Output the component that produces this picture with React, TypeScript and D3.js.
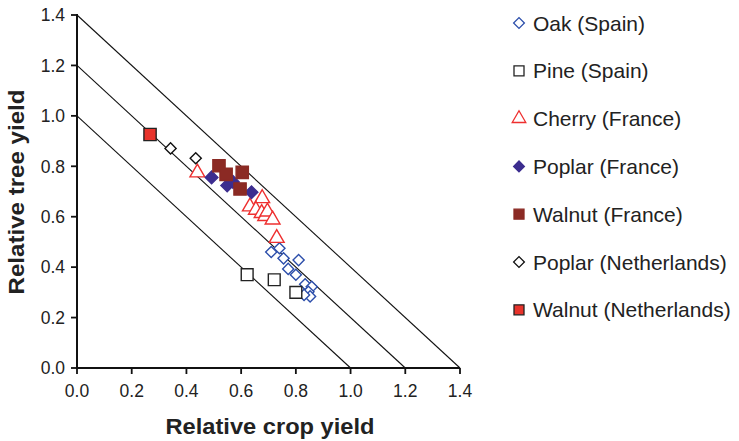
import React from "react";
import * as d3 from "d3";

const xTicks = [0, 0.2, 0.4, 0.6, 0.8, 1.0, 1.2, 1.4];
const yTicks = [0, 0.2, 0.4, 0.6, 0.8, 1.0, 1.2, 1.4];
const diagonals = [1.0, 1.2, 1.4];

const oakSpain: [number, number][] = [
  [0.71, 0.46], [0.74, 0.475], [0.755, 0.435], [0.772, 0.393], [0.81, 0.428],
  [0.8, 0.37], [0.834, 0.332], [0.858, 0.322], [0.846, 0.302], [0.852, 0.284], [0.83, 0.29],
];
const pineSpain: [number, number][] = [[0.622, 0.37], [0.721, 0.35], [0.8, 0.3]];
const cherryFrance: [number, number][] = [
  [0.44, 0.775], [0.632, 0.64], [0.677, 0.673], [0.654, 0.627], [0.675, 0.614],
  [0.688, 0.602], [0.696, 0.62], [0.715, 0.588], [0.73, 0.515],
];
const poplarFrance: [number, number][] = [[0.492, 0.756], [0.549, 0.724], [0.57, 0.738], [0.638, 0.697]];
const walnutFrance: [number, number][] = [[0.519, 0.802], [0.545, 0.768], [0.604, 0.776], [0.596, 0.71]];
const poplarNL: [number, number][] = [[0.342, 0.871], [0.434, 0.832]];
const walnutNL: [number, number][] = [[0.267, 0.926]];

type Shape = "diamond" | "square" | "triangle";
const seriesNames = [
  "Oak (Spain)", "Pine (Spain)", "Cherry (France)", "Poplar (France)",
  "Walnut (France)", "Poplar (Netherlands)", "Walnut (Netherlands)",
];
const seriesData = [oakSpain, pineSpain, cherryFrance, poplarFrance, walnutFrance, poplarNL, walnutNL];
const seriesShape: Shape[] = ["diamond", "square", "triangle", "diamond", "square", "diamond", "square"];
const seriesFill = ["#ffffff", "#ffffff", "#ffffff", "#3c2d8f", "#8b2a24", "#ffffff", "#e8332b"];
const seriesStroke = ["#2d4fab", "#222222", "#ee2f2f", "#3c2d8f", "#8b2a24", "#111111", "#222222"];
const seriesSize = [62, 140, 95, 80, 150, 62, 150];

function symPath(shape: Shape, size: number) {
  const t = shape === "triangle" ? d3.symbolTriangle : d3.symbolSquare;
  return d3.symbol().type(t).size(size)() as string;
}

export default function App() {
  const x = d3.scaleLinear().domain([0, 1.4]).range([77, 460]);
  const y = d3.scaleLinear().domain([0, 1.4]).range([368, 15]);
  const font = "Arial, 'Liberation Sans', Helvetica, sans-serif";
  const legendX = 519;
  const legendY0 = 23;
  const legendStep = 47.8;

  return (
    <svg width={739} height={441} style={{ position: "absolute", left: 0, top: 0, background: "#fff" }} fontFamily={font}>
      {diagonals.map((c) => (
        <line key={c} x1={x(0)} y1={y(c)} x2={x(c)} y2={y(0)} stroke="#111" strokeWidth={1.1} />
      ))}
      {/* axes */}
      <line x1={x(0)} y1={y(1.4) - 1} x2={x(0)} y2={y(0) + 1} stroke="#111" strokeWidth={2} />
      <line x1={x(0) - 1} y1={y(0)} x2={x(1.4)} y2={y(0)} stroke="#111" strokeWidth={2} />
      {yTicks.map((t) => (
        <g key={"y" + t}>
          <line x1={x(0) - 6} x2={x(0)} y1={y(t)} y2={y(t)} stroke="#111" strokeWidth={1.8} />
          <text x={65} y={y(t)} dy="0.36em" textAnchor="end" fontSize={17.5} fill="#222">{t.toFixed(1)}</text>
        </g>
      ))}
      {xTicks.map((t) => (
        <g key={"x" + t}>
          <line x1={x(t)} x2={x(t)} y1={y(0)} y2={y(0) + 6} stroke="#111" strokeWidth={1.8} />
          <text x={x(t)} y={397} textAnchor="middle" fontSize={17.5} fill="#222">{t.toFixed(1)}</text>
        </g>
      ))}
      <text x={270} y={434} textAnchor="middle" fontSize={22.5} fontWeight="bold" fill="#222"
        textLength={209} lengthAdjust="spacingAndGlyphs">Relative crop yield</text>
      <text transform={`translate(24,192) rotate(-90)`} textAnchor="middle" fontSize={22.5} fontWeight="bold" fill="#222"
        textLength={205} lengthAdjust="spacingAndGlyphs">Relative tree yield</text>

      {seriesData.map((data, i) => (
        <g key={seriesNames[i]}>
          {data.map(([dx, dy], j) => (
            <path
              key={j}
              d={symPath(seriesShape[i], seriesSize[i])}
              transform={`translate(${x(dx)},${y(dy)})${seriesShape[i] === "diamond" ? " rotate(45)" : ""}`}
              fill={seriesFill[i]}
              stroke={seriesStroke[i]}
              strokeWidth={1.4}
            />
          ))}
        </g>
      ))}

      {seriesNames.map((name, i) => {
        const ly = legendY0 + i * legendStep;
        const size = seriesShape[i] === "diamond" ? 58 : seriesShape[i] === "square" ? 100 : 80;
        return (
          <g key={"leg" + name}>
            <path
              d={symPath(seriesShape[i], size)}
              transform={`translate(${legendX},${ly})${seriesShape[i] === "diamond" ? " rotate(45)" : ""}`}
              fill={seriesFill[i]}
              stroke={seriesStroke[i]}
              strokeWidth={1.3}
            />
            <text x={533} y={ly} dy="0.36em" fontSize={21} fill="#222">{name}</text>
          </g>
        );
      })}
    </svg>
  );
}
